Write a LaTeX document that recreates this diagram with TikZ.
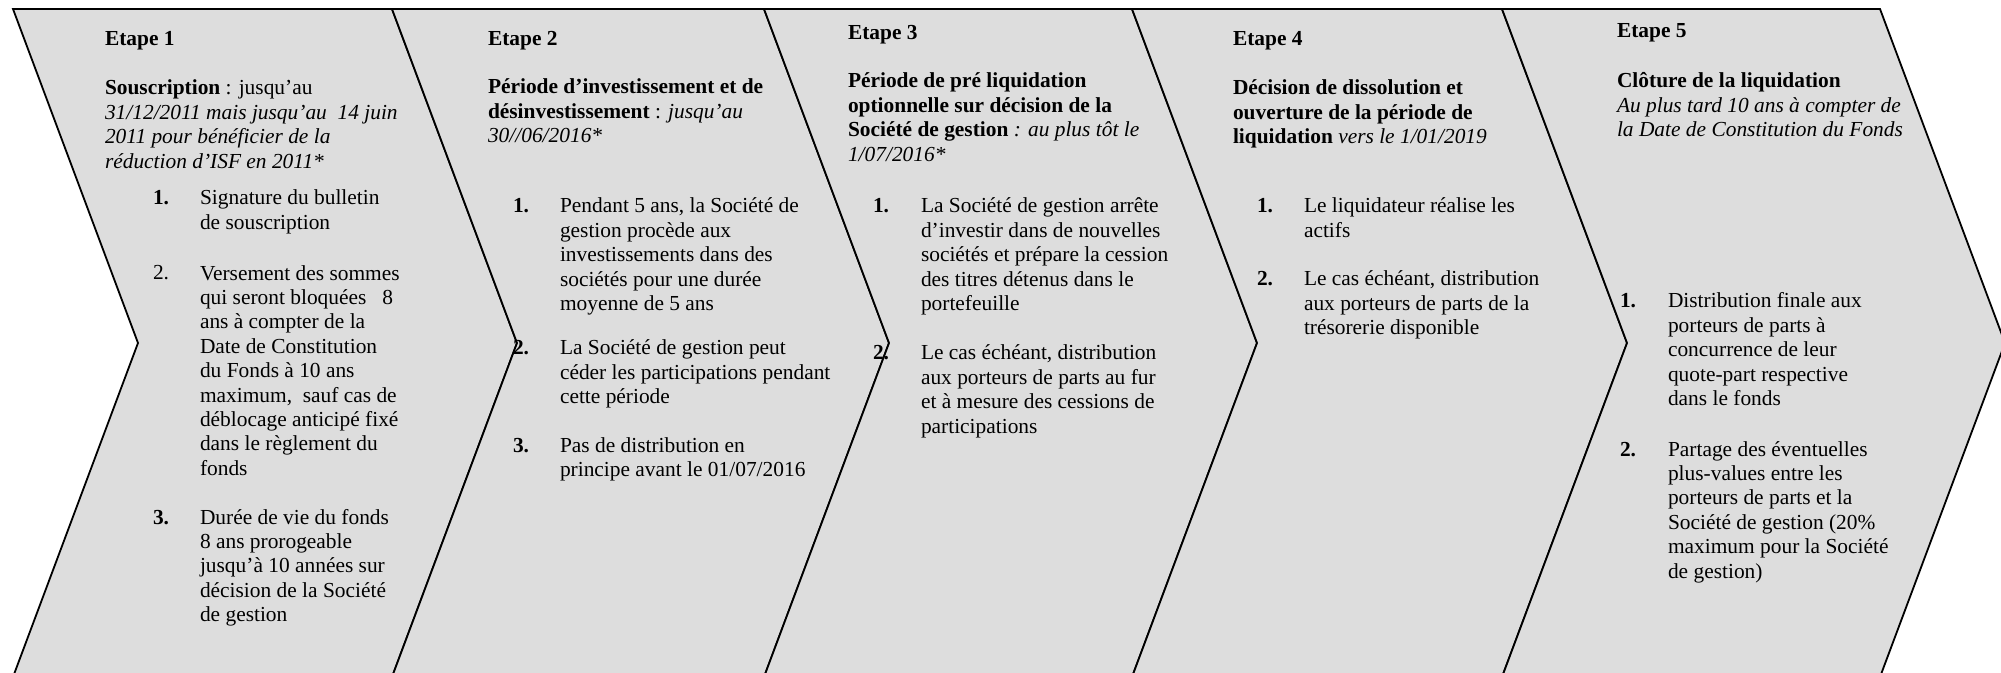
\documentclass[tikz,border=0pt]{standalone}
\usepackage{fontspec}
\setmainfont{Liberation Serif}
\usetikzlibrary{positioning}
\definecolor{stagegray}{RGB}{221,221,221}
\tikzstyle{stage}=[draw=black,fill=stagegray,line width=0.9pt,line join=miter]
\newcommand{\txtfont}{\fontsize{10.7}{12.2}\selectfont}

\begin{document}
\begin{tikzpicture}[x=0.5pt,y=-0.5pt,
    txt/.style={anchor=north west,inner sep=0,outer sep=0,align=left,
      yshift=8.54pt,font=\txtfont},
    num/.style={txt,font=\txtfont\bfseries},
    etape/.style={txt,font=\txtfont\bfseries}
    ]
    \useasboundingbox (0,0) rectangle (2001,673);

    % chevrons
    \foreach \l/\r in {13/392,392/764,764/1132,1132/1502,1502/1880} {
      \draw[stage] (\l,9) -- (\r,9) -- (\r+125,343) -- (\r,677)
        -- (\l,677) -- (\l+125,343) -- cycle;
    }

    % etape labels
    \foreach \x/\y [count=\i] in {105/46,488/46,848/40,1233/46,1617/38} {
      \node[etape] (e\i) at (\x,\y) {\strut Etape \i};
    }

    % etape 1
    \node[txt] (t1) at (105,95) {\strut\textbf{Souscription} : jusqu’au\\
      \textit{31/12/2011 mais jusqu’au\ \ 14 juin}\\
      \textit{2011 pour bénéficier de la}\\
      \textit{réduction d’ISF en 2011*}};
    \node[num] (n11) at (153,205) {\strut 1.};
    \node[txt] (i11) at (200,205) {\strut Signature du bulletin\\de souscription};
    \node[txt] (n12) at (153,280) {\strut 2.};
    \node[txt] (i12) at (200,280) {\strut Versement des sommes\\
      qui seront bloquées\ \ \ 8\\ans à compter de la\\Date de Constitution\\
      du Fonds à 10 ans\\maximum,\ \ sauf cas de\\déblocage anticipé fixé\\
      dans le règlement du\\fonds};
    \node[num] (n13) at (153,524) {\strut 3.};
    \node[txt] (i13) at (200,524) {\strut Durée de vie du fonds\\8 ans prorogeable\\
      jusqu’à 10 années sur\\décision de la Société\\de gestion};

    % etape 2
    \node[txt] (t2) at (488,94) {\strut\textbf{Période d’investissement et de}\\
      \textbf{désinvestissement} : \textit{jusqu’au}\\
      \textit{30//06/2016*}};
    \node[num] (n21) at (513,213) {\strut 1.};
    \node[txt] (i21) at (560,213) {\strut Pendant 5 ans, la Société de\\
      gestion procède aux\\investissements dans des\\sociétés pour une durée\\
      moyenne de 5 ans};
    \node[num] (n22) at (513,355) {\strut 2.};
    \node[txt] (i22) at (560,355) {\strut La Société de gestion peut\\
      céder les participations pendant\\cette période};
    \node[num] (n23) at (513,452) {\strut 3.};
    \node[txt] (i23) at (560,452) {\strut Pas de distribution en\\
      principe avant le 01/07/2016};

    % etape 3
    \node[txt] (t3) at (848,88) {\strut\textbf{Période de pré liquidation}\\
      \textbf{optionnelle sur décision de la}\\
      \textbf{Société de gestion} \textit{: au plus tôt le}\\
      \textit{1/07/2016*}};
    \node[num] (n31) at (873,213) {\strut 1.};
    \node[txt] (i31) at (921,213) {\strut La Société de gestion arrête\\
      d’investir dans de nouvelles\\sociétés et prépare la cession\\
      des titres détenus dans le\\portefeuille};
    \node[num] (n32) at (873,360) {\strut 2.};
    \node[txt] (i32) at (921,360) {\strut Le cas échéant, distribution\\
      aux porteurs de parts au fur\\et à mesure des cessions de\\participations};

    % etape 4
    \node[txt] (t4) at (1233,95) {\strut\textbf{Décision de dissolution et}\\
      \textbf{ouverture de la période de}\\
      \textbf{liquidation} \textit{vers le 1/01/2019}};
    \node[num] (n41) at (1257,213) {\strut 1.};
    \node[txt] (i41) at (1304,213) {\strut Le liquidateur réalise les\\actifs};
    \node[num] (n42) at (1257,286) {\strut 2.};
    \node[txt] (i42) at (1304,286) {\strut Le cas échéant, distribution\\
      aux porteurs de parts de la\\trésorerie disponible};

    % etape 5
    \node[txt] (t5) at (1617,88) {\strut\textbf{Clôture de la liquidation}\\
      \textit{Au plus tard 10 ans à compter de}\\
      \textit{la Date de Constitution du Fonds}};
    \node[num] (n51) at (1620,308) {\strut 1.};
    \node[txt] (i51) at (1668,308) {\strut Distribution finale aux\\
      porteurs de parts à\\concurrence de leur\\quote-part respective\\dans le fonds};
    \node[num] (n52) at (1620,456) {\strut 2.};
    \node[txt] (i52) at (1668,456) {\strut Partage des éventuelles\\
      plus-values entre les\\porteurs de parts et la\\Société de gestion (20\%\\
      maximum pour la Société\\de gestion)};

  \end{tikzpicture}
\end{document}
